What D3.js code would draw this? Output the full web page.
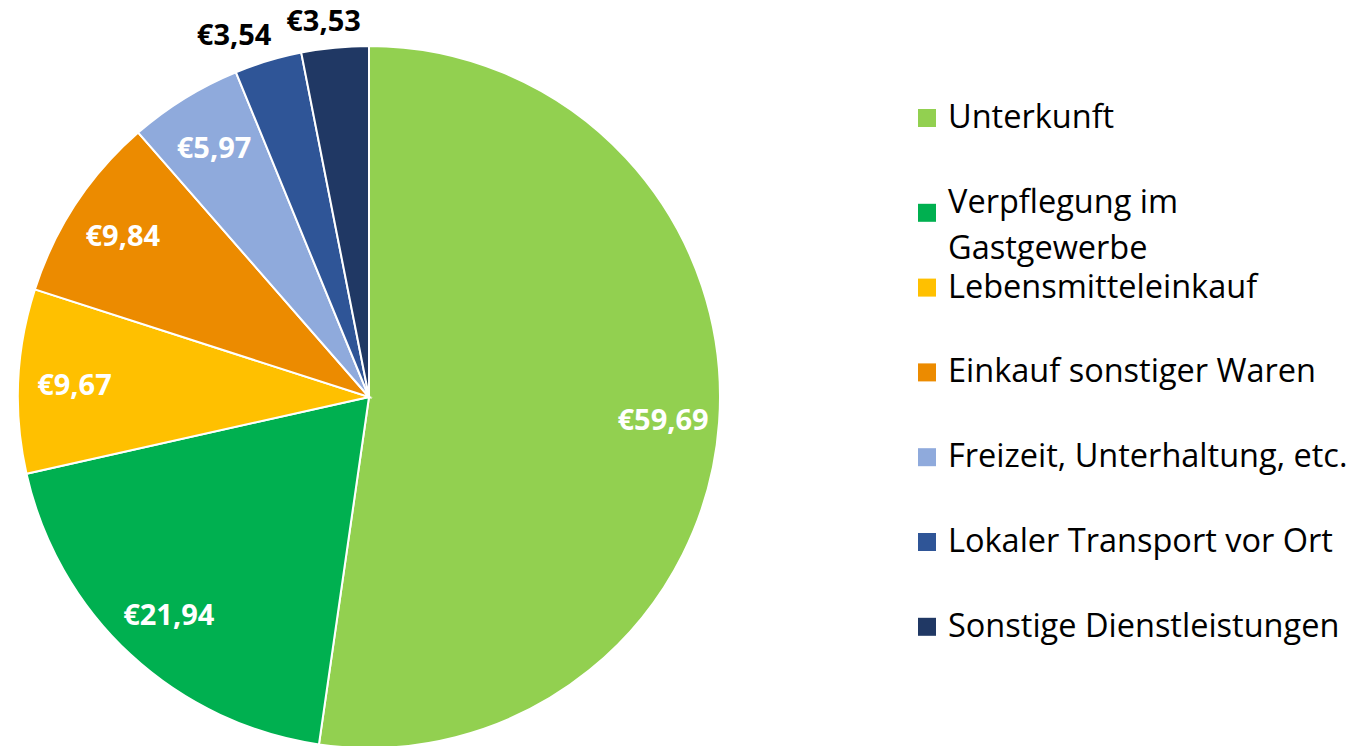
<!DOCTYPE html>
<html lang="de">
<head>
    <meta charset="UTF-8">
    <title>Ausgaben pro Kopf</title>
    <script src="https://d3js.org/d3.v7.min.js"></script>
    <style>
        body { margin: 0; background: #fff; }
        svg { display: block; font-family: "Open Sans", sans-serif; }
        .slices path { stroke: #fff; stroke-width: 2px; }
        .labels text { font-weight: bold; font-size: 29px; }
        .legend text { font-size: 32.5px; fill: #000; }
    </style>
</head>
<body>
    <svg width="1365" height="746"></svg>

    <script>
        // categories (legend can wrap on "\n")
        const categories = [
            "Unterkunft",
            "Verpflegung im\nGastgewerbe",
            "Lebensmitteleinkauf",
            "Einkauf sonstiger Waren",
            "Freizeit, Unterhaltung, etc.",
            "Lokaler Transport vor Ort",
            "Sonstige Dienstleistungen"
        ];
        const values = [59.69, 21.94, 9.67, 9.84, 5.97, 3.54, 3.53];
        const colors = ["#92D050", "#00B050", "#FFC000", "#EC8B00", "#8FAADC", "#2F5597", "#203864"];

        const svg = d3.select("svg");
        const cx = 369, cy = 397, r = 351;

        const data = categories.map((c, i) => ({ name: c, value: values[i], color: colors[i] }));

        const pie = d3.pie().value(d => d.value).sort(null);
        const arcs = pie(data);
        const arc = d3.arc().innerRadius(0).outerRadius(r);

        const g = svg.append("g").attr("transform", `translate(${cx},${cy})`);

        g.append("g").attr("class", "slices")
            .selectAll("path")
            .data(arcs)
            .enter().append("path")
            .attr("d", arc)
            .attr("fill", d => d.data.color);

        // small slices get their label outside, in black
        const fmt = v => "€" + v.toFixed(2).replace(".", ",");
        const isSmall = d => (d.endAngle - d.startAngle) < 0.25;
        const inner = d3.arc().innerRadius(r * 0.84).outerRadius(r * 0.84);
        const outer = d3.arc().innerRadius(r * 1.08).outerRadius(r * 1.08);

        function labelPos(d) {
            if (!isSmall(d)) return inner.centroid(d);
            const [x, y] = outer.centroid(d);
            const mid = (d.startAngle + d.endAngle) / 2;
            return [x + Math.sin(mid) * 90, y]; // push sideways so neighbours don't collide
        }

        g.append("g").attr("class", "labels")
            .selectAll("text")
            .data(arcs)
            .enter().append("text")
            .attr("transform", d => `translate(${labelPos(d)})`)
            .attr("text-anchor", "middle")
            .attr("dominant-baseline", "central")
            .attr("fill", d => isSmall(d) ? "#000" : "#fff")
            .text(d => fmt(d.data.value));

        // legend
        const legendX = 918, firstBaseline = 128, rowStep = 84.8, lineStep = 46, box = 18;
        const legend = svg.append("g").attr("class", "legend")
            .selectAll("g")
            .data(data)
            .enter().append("g")
            .attr("transform", (d, i) => `translate(${legendX},${firstBaseline + i * rowStep})`);

        legend.append("rect")
            .attr("x", 0)
            .attr("y", d => d.name.includes("\n") ? -9 : -19)
            .attr("width", box)
            .attr("height", box)
            .attr("fill", d => d.color);

        legend.append("text")
            .attr("x", 30)
            .selectAll("tspan")
            .data(d => d.name.split("\n"))
            .enter().append("tspan")
            .attr("x", 30)
            .attr("y", (d, i) => i * lineStep)
            .text(d => d);
    </script>
</body>
</html>
